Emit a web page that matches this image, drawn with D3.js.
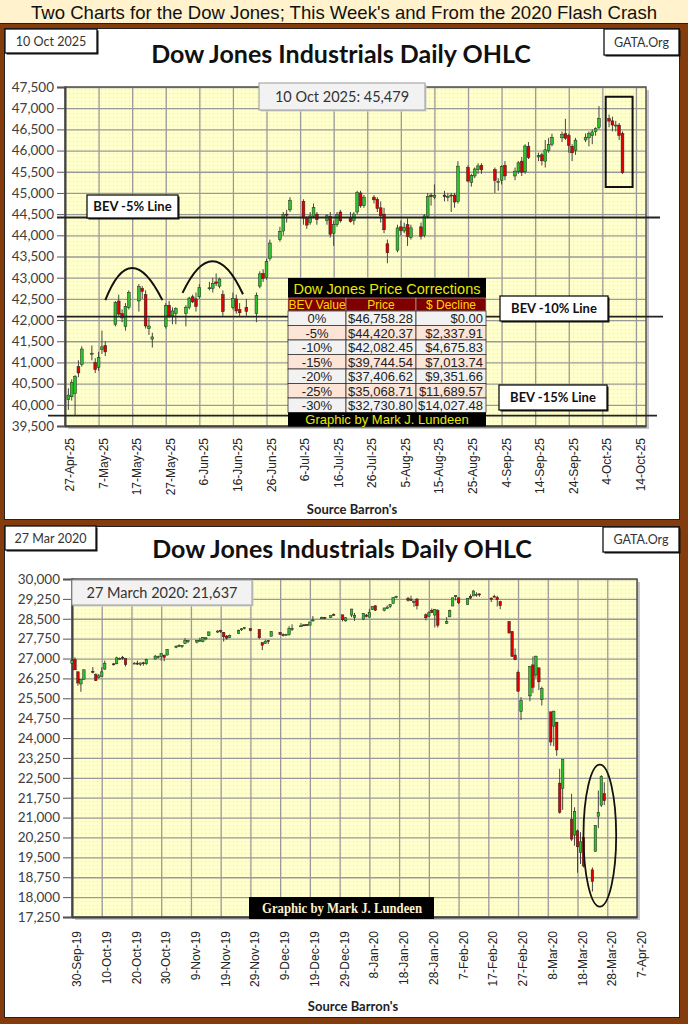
<!DOCTYPE html>
<html>
<head>
<meta charset="utf-8">
<script src="https://cdn.jsdelivr.net/npm/d3@7"></script>
<style>
body { margin: 0; background: #843c0c; }
svg { display: block; }
</style>
</head>
<body>
<svg width="688" height="1024"></svg>
<script>
// daily candles: date, open, high, low, close
var topCandles = [
    ["2025-04-28",40120,40390,39880,40228],["2025-04-29",40190,40600,40100,40527],["2025-04-30",40270,40700,39750,40669],
    ["2025-05-01",40900,41050,40650,40752],["2025-05-02",40950,41380,40900,41317],["2025-05-05",41200,41400,41050,41218],
    ["2025-05-06",41000,41100,40750,40829],["2025-05-07",40880,41250,40800,41114],["2025-05-08",41300,41750,41200,41368],
    ["2025-05-09",41400,41500,41150,41249],["2025-05-12",41900,42450,41850,42410],["2025-05-13",42450,42600,42100,42140],
    ["2025-05-14",42150,42250,41950,42051],["2025-05-15",41850,42400,41750,42323],["2025-05-16",42300,42700,42250,42655],
    ["2025-05-19",42450,42850,42200,42792],["2025-05-20",42750,42800,42500,42677],["2025-05-21",42600,42700,41800,41860],
    ["2025-05-22",41800,42050,41650,41859],["2025-05-23",41550,41700,41350,41603],["2025-05-27",41850,42400,41800,42343],
    ["2025-05-28",42350,42450,42050,42098],["2025-05-29",42100,42300,41900,42216],["2025-05-30",42150,42300,41900,42270],
    ["2025-06-02",42150,42350,41850,42305],["2025-06-03",42300,42550,42250,42520],["2025-06-04",42550,42600,42400,42428],
    ["2025-06-05",42500,42650,42200,42319],["2025-06-06",42550,42850,42500,42763],["2025-06-09",42750,42900,42700,42762],
    ["2025-06-10",42750,43000,42650,42867],["2025-06-11",42900,43100,42800,42866],["2025-06-12",42800,43000,42750,42968],
    ["2025-06-13",42600,42700,42100,42198],["2025-06-16",42300,42650,42250,42515],["2025-06-17",42500,42600,42150,42215],
    ["2025-06-18",42250,42400,42100,42172],["2025-06-20",42300,42500,42100,42207],["2025-06-23",42150,42650,41950,42582],
    ["2025-06-24",42800,43150,42750,43089],["2025-06-25",43100,43200,42900,42982],["2025-06-26",43000,43450,42950,43387],
    ["2025-06-27",43450,43900,43400,43819],["2025-06-30",43900,44200,43850,44095],["2025-07-01",44100,44550,44000,44495],
    ["2025-07-02",44500,44600,44300,44484],["2025-07-03",44600,44900,44550,44829],["2025-07-07",44800,44850,44250,44406],
    ["2025-07-08",44400,44450,44150,44241],["2025-07-09",44300,44550,44250,44458],["2025-07-10",44450,44750,44400,44651],
    ["2025-07-11",44500,44550,44250,44371],["2025-07-14",44350,44500,44250,44460],["2025-07-15",44450,44550,43950,44023],
    ["2025-07-16",44050,44350,43750,44254],["2025-07-17",44250,44550,44200,44484],["2025-07-18",44550,44600,44300,44342],
    ["2025-07-21",44400,44550,44300,44323],["2025-07-22",44350,44550,44250,44502],["2025-07-23",44550,45050,44500,45010],
    ["2025-07-24",45000,45050,44650,44694],["2025-07-25",44700,44950,44650,44901],["2025-07-28",44900,44950,44750,44837],
    ["2025-07-29",44850,44900,44550,44632],["2025-07-30",44650,44800,44300,44461],["2025-07-31",44500,44650,44050,44131],
    ["2025-08-01",43800,43900,43340,43589],["2025-08-04",43650,44250,43600,44174],["2025-08-05",44200,44350,44000,44112],
    ["2025-08-06",44100,44300,44050,44193],["2025-08-07",44250,44400,43750,43969],["2025-08-08",43950,44250,43900,44176],
    ["2025-08-11",44200,44300,43900,43975],["2025-08-12",44000,44500,43950,44459],["2025-08-13",44450,45000,44400,44922],
    ["2025-08-14",44950,45000,44700,44911],["2025-08-15",44900,45200,44850,44946],["2025-08-18",44950,45050,44800,44912],
    ["2025-08-19",44900,45000,44800,44922],["2025-08-20",44950,45000,44550,44938],["2025-08-21",44950,45000,44650,44785],
    ["2025-08-22",44800,45750,44750,45632],["2025-08-25",45600,45650,45250,45282],["2025-08-26",45250,45450,45150,45418],
    ["2025-08-27",45400,45600,45350,45565],["2025-08-28",45550,45700,45450,45637],["2025-08-29",45650,45700,45450,45545],
    ["2025-09-02",45550,45600,45000,45296],["2025-09-03",45250,45350,45050,45271],["2025-09-04",45300,45650,45200,45621],
    ["2025-09-05",45650,45750,45300,45401],["2025-09-08",45400,45600,45300,45515],["2025-09-09",45500,45750,45450,45711],
    ["2025-09-10",45750,45850,45400,45490],["2025-09-11",45500,46150,45450,46108],["2025-09-12",46100,46200,45800,45834],
    ["2025-09-15",45850,45950,45750,45883],["2025-09-16",45900,45950,45650,45758],["2025-09-17",45750,46250,45600,46018],
    ["2025-09-18",46000,46300,45950,46142],["2025-09-19",46150,46400,46100,46315],["2025-09-22",46300,46450,46200,46381],
    ["2025-09-23",46400,46750,46250,46292],["2025-09-24",46350,46400,45950,46121],["2025-09-25",46100,46150,45750,45947],
    ["2025-09-26",46000,46300,45900,46247],["2025-09-29",46250,46400,46200,46316],["2025-09-30",46300,46450,46100,46398],
    ["2025-10-01",46350,46500,46150,46441],["2025-10-02",46450,46550,46350,46519],["2025-10-03",46550,47050,46500,46758],
    ["2025-10-06",46760,46850,46550,46695],["2025-10-07",46700,46800,46450,46603],["2025-10-08",46600,46700,46450,46602],
    ["2025-10-09",46600,46650,46250,46358],["2025-10-10",46400,46450,45450,45479]
];

var bottomCandles = [
    ["2019-09-30",26820,26998,26790,26917],["2019-10-01",26960,27046,26570,26573],["2019-10-02",26500,26500,25974,26079],
    ["2019-10-03",26040,26210,25743,26201],["2019-10-04",26220,26590,26200,26573],["2019-10-07",26520,26680,26440,26478],
    ["2019-10-08",26400,26440,26150,26164],["2019-10-09",26280,26420,26250,26347],["2019-10-10",26330,26670,26310,26497],
    ["2019-10-11",26600,26920,26580,26817],["2019-10-14",26800,26830,26740,26787],["2019-10-15",26800,27070,26790,27025],
    ["2019-10-16",27000,27040,26960,27002],["2019-10-17",27050,27100,26950,27026],["2019-10-18",27000,27010,26700,26770],
    ["2019-10-21",26810,26860,26790,26828],["2019-10-22",26830,26920,26760,26788],["2019-10-23",26780,26850,26720,26834],
    ["2019-10-24",26840,26880,26730,26806],["2019-10-25",26800,26990,26770,26958],["2019-10-28",26980,27140,26970,27091],
    ["2019-10-29",27070,27110,27000,27071],["2019-10-30",27080,27190,26920,27186],["2019-10-31",27130,27140,26900,27046],
    ["2019-11-01",27130,27360,27120,27347],["2019-11-04",27430,27500,27390,27462],["2019-11-05",27490,27540,27430,27492],
    ["2019-11-06",27460,27500,27400,27493],["2019-11-07",27560,27770,27550,27675],["2019-11-08",27640,27700,27580,27681],
    ["2019-11-11",27620,27700,27570,27691],["2019-11-12",27690,27790,27640,27691],["2019-11-13",27640,27810,27610,27784],
    ["2019-11-14",27760,27800,27690,27782],["2019-11-15",27860,28010,27860,28005],["2019-11-18",28010,28070,27960,28036],
    ["2019-11-19",28060,28090,27960,28053],["2019-11-20",27990,28000,27640,27821],["2019-11-21",27850,27880,27710,27767],
    ["2019-11-22",27800,27900,27770,27876],["2019-11-25",27950,28090,27940,28067],["2019-11-26",28090,28150,28040,28122],
    ["2019-11-27",28140,28175,28100,28164],["2019-11-29",28140,28140,28030,28051],["2019-12-02",28100,28100,27740,27783],
    ["2019-12-03",27600,27600,27320,27503],["2019-12-04",27560,27710,27560,27650],["2019-12-05",27680,27700,27550,27677],
    ["2019-12-06",27840,28030,27840,28015],["2019-12-09",27990,28000,27900,27910],["2019-12-10",27900,27950,27830,27882],
    ["2019-12-11",27900,27930,27860,27911],["2019-12-12",27900,28220,27860,28132],["2019-12-13",28120,28290,28040,28135],
    ["2019-12-16",28230,28340,28200,28235],["2019-12-17",28270,28300,28230,28268],["2019-12-18",28280,28300,28230,28240],
    ["2019-12-19",28260,28380,28250,28377],["2019-12-20",28450,28600,28400,28455],["2019-12-23",28500,28580,28490,28551],
    ["2019-12-24",28550,28570,28480,28515],["2019-12-26",28540,28620,28530,28621],["2019-12-27",28670,28700,28610,28645],
    ["2019-12-30",28650,28650,28400,28462],["2019-12-31",28420,28550,28390,28538],["2020-01-02",28640,28870,28560,28869],
    ["2020-01-03",28550,28720,28420,28634],["2020-01-06",28470,28710,28450,28703],["2020-01-07",28640,28680,28550,28584],
    ["2020-01-08",28560,28870,28550,28745],["2020-01-09",28850,28970,28830,28957],["2020-01-10",28990,29010,28790,28824],
    ["2020-01-13",28820,28910,28780,28908],["2020-01-14",28880,29000,28880,28940],["2020-01-15",28960,29060,28900,29030],
    ["2020-01-16",29080,29300,29070,29298],["2020-01-17",29320,29370,29280,29348],["2020-01-21",29260,29330,29150,29196],
    ["2020-01-22",29240,29370,29170,29186],["2020-01-23",29150,29200,28950,29160],["2020-01-24",29240,29280,28850,28990],
    ["2020-01-27",28650,28700,28440,28536],["2020-01-28",28600,28780,28560,28723],["2020-01-29",28820,28890,28710,28734],
    ["2020-01-30",28640,28860,28170,28859],["2020-01-31",28810,28860,28170,28256],["2020-02-03",28320,28560,28320,28400],
    ["2020-02-04",28570,28840,28570,28808],["2020-02-05",28980,29290,28980,29291],["2020-02-06",29330,29380,29190,29380],
    ["2020-02-07",29290,29290,29050,29103],["2020-02-10",29030,29280,29030,29276],["2020-02-11",29350,29420,29250,29276],
    ["2020-02-12",29360,29570,29360,29551],["2020-02-13",29400,29500,29330,29424],["2020-02-14",29440,29450,29330,29398],
    ["2020-02-18",29280,29300,29130,29232],["2020-02-19",29350,29410,29330,29348],["2020-02-20",29300,29370,28960,29220],
    ["2020-02-21",29150,29180,28860,28992],["2020-02-24",28400,28400,27960,27961],["2020-02-25",28020,28030,27060,27081],
    ["2020-02-26",27130,27380,26940,26957],["2020-02-27",26480,26550,25760,25766],["2020-02-28",25000,25540,24680,25409],
    ["2020-03-02",25590,26710,25390,26703],["2020-03-03",26760,27080,25700,25917],["2020-03-04",26380,27100,26270,27091],
    ["2020-03-05",26650,26650,25810,26121],["2020-03-06",25460,25940,25230,25865],["2020-03-09",24990,24990,23710,23851],
    ["2020-03-10",24450,25020,23690,25018],["2020-03-11",24600,24600,23330,23553],["2020-03-12",22300,22840,21150,21200],
    ["2020-03-13",22100,23190,21290,23186],["2020-03-16",20920,21900,20120,20189],["2020-03-17",20340,21390,19940,21237],
    ["2020-03-18",20500,20550,18920,19899],["2020-03-19",19690,20450,19250,20087],["2020-03-20",20250,20530,19120,19174],
    ["2020-03-23",19030,19120,18210,18592],["2020-03-24",19720,20720,19720,20705],["2020-03-25",21050,22020,20600,21200],
    ["2020-03-26",21470,22600,21400,22552],["2020-03-27",21900,22330,21470,21637]
];

var topYTicks = [39500,40000,40500,41000,41500,42000,42500,43000,43500,44000,44500,45000,45500,46000,46500,47000,47500];
var bottomYTicks = [17250,18000,18750,19500,20250,21000,21750,22500,23250,24000,24750,25500,26250,27000,27750,28500,29250,30000];
var topXTicks = ["2025-04-27","2025-05-07","2025-05-17","2025-05-27","2025-06-06","2025-06-16","2025-06-26","2025-07-06","2025-07-16",
    "2025-07-26","2025-08-05","2025-08-15","2025-08-25","2025-09-04","2025-09-14","2025-09-24","2025-10-04","2025-10-14"];
var bottomXTicks = ["2019-09-30","2019-10-10","2019-10-20","2019-10-30","2019-11-09","2019-11-19","2019-11-29","2019-12-09","2019-12-19",
    "2019-12-29","2020-01-08","2020-01-18","2020-01-28","2020-02-07","2020-02-17","2020-02-27","2020-03-08","2020-03-18","2020-03-28","2020-04-07"];

// BEV price correction table
var bevLabels = ["0%","-5%","-10%","-15%","-20%","-25%","-30%"];
var bevPrices = [46758.28,44420.37,42082.45,39744.54,37406.62,35068.71,32730.80];
var bevDeclines = [0,2337.91,4675.83,7013.74,9351.66,11689.57,14027.48];

// annotations (date, value)
var topArcs = [
    [["2025-05-09",42470],["2025-05-17",43230],["2025-05-26",42470]],
    [["2025-06-01",42640],["2025-06-10",43390],["2025-06-19",42610]]
];
var topBox = [["2025-10-05",47270],["2025-10-13",45140]];
var bottomEllipse = [["2020-03-20",23000],["2020-03-31",17640]];

var parse = d3.utcParse("%Y-%m-%d");
var fmtDate = d3.utcFormat("%-d-%b-%y");

var svg = d3.select('svg');
var defs = svg.append('defs');
var pat = defs.append('pattern').attr('id', 'dots')
    .attr('width', 4).attr('height', 4).attr('patternUnits', 'userSpaceOnUse');
pat.append('rect').attr('width', 4).attr('height', 4).attr('fill', '#ffffcc');
pat.append('rect').attr('x', 1).attr('y', 1).attr('width', 1).attr('height', 1).attr('fill', '#ebe4b4');

//frame and banner
svg.append('rect').attr('width', 688).attr('height', 1024).attr('fill', '#843c0c');
svg.append('rect').attr('width', 688).attr('height', 23).attr('fill', '#fff2cc');
svg.append('line').attr('x1', 0).attr('x2', 688).attr('y1', 23.5).attr('y2', 23.5).attr('stroke', '#3a1a05');
svg.append('text').attr('x', 344).attr('y', 18.5).attr('text-anchor', 'middle')
    .style('font-family', 'Liberation Sans, Arial').style('font-size', '19px').attr('fill', '#111')
    .attr('textLength', 626).attr('lengthAdjust', 'spacingAndGlyphs')
    .text("Two Charts for the Dow Jones; This Week's and From the 2020 Flash Crash");

svg.append('rect').attr('x', 4.5).attr('y', 28.5).attr('width', 675).attr('height', 491)
    .attr('fill', '#fff').attr('stroke', '#222');
svg.append('rect').attr('x', 4.5).attr('y', 526.5).attr('width', 675).attr('height', 491)
    .attr('fill', '#fff').attr('stroke', '#222');


function labelBox(x, y, w, h, txt, opts) {
    opts = opts || {};
    var g = svg.append('g');
    g.append('rect').attr('x', x + 1.5).attr('y', y + 1.5).attr('width', w).attr('height', h)
        .attr('fill', opts.shadow || '#111');
    g.append('rect').attr('x', x).attr('y', y).attr('width', w).attr('height', h)
        .attr('fill', opts.fill || '#fff').attr('stroke', opts.stroke || '#111').attr('stroke-width', opts.sw || 1.3);
    g.append('text').attr('x', x + w / 2).attr('y', y + h / 2).attr('dy', '0.36em')
        .attr('text-anchor', 'middle')
        .style('font-family', opts.font || 'Lato, sans-serif')
        .style('font-size', (opts.size || 12) + 'px')
        .style('font-weight', opts.bold ? 'bold' : 'normal')
        .attr('fill', opts.color || '#333')
        .text(txt);
    return g;
}


function drawCandles(g, data, x, y, w) {
    var c = g.selectAll('.candle').data(data).enter().append('g').attr('class', 'candle');
    c.append('line')
        .attr('x1', d => x(parse(d[0]))).attr('x2', d => x(parse(d[0])))
        .attr('y1', d => y(d[2])).attr('y2', d => y(d[3]))
        .attr('stroke', '#444').attr('stroke-width', 1);
    c.append('rect')
        .attr('x', d => x(parse(d[0])) - w / 2)
        .attr('y', d => y(Math.max(d[1], d[4])))
        .attr('width', w)
        .attr('height', d => Math.max(1, Math.abs(y(d[1]) - y(d[4]))))
        .attr('fill', d => d[4] >= d[1] ? '#2ec12e' : '#e00000')
        .attr('stroke', '#222').attr('stroke-width', 0.5);
}


//plot area, grid, axes
function drawPlot(x, y, yTicks, xTicks, tickLen, labelGap) {
    var l = x.range()[0], r = x.range()[1], t = y.range()[1], b = y.range()[0];
    svg.append('rect').attr('x', l + 3).attr('y', t + 3).attr('width', r - l).attr('height', b - t).attr('fill', '#c8c8c8');
    svg.append('rect').attr('x', l).attr('y', t).attr('width', r - l).attr('height', b - t).attr('fill', 'url(#dots)');

    var gy = svg.append('g').attr('transform', 'translate(' + l + ',0)')
        .call(d3.axisLeft(y).tickValues(yTicks).tickSize(-(r - l)).tickFormat(''));
    gy.select('.domain').remove();
    gy.selectAll('line').attr('stroke', '#9a9a9a').attr('stroke-width', 1.3);

    var gx = svg.append('g').attr('transform', 'translate(0,' + b + ')')
        .call(d3.axisBottom(x).tickValues(xTicks.map(parse)).tickSize(-(b - t)).tickFormat(''));
    gx.select('.domain').remove();
    gx.selectAll('line').attr('stroke', '#9a9a9a').attr('stroke-width', 1.3);

    svg.append('rect').attr('x', l).attr('y', t).attr('width', r - l).attr('height', b - t)
        .attr('fill', 'none').attr('stroke', '#555').attr('stroke-width', 1.5);

    var ay = svg.append('g').attr('transform', 'translate(' + l + ',0)')
        .call(d3.axisLeft(y).tickValues(yTicks).tickSize(tickLen).tickPadding(3).tickFormat(d3.format(',')));
    ay.select('.domain').attr('stroke', '#444').attr('stroke-width', 2);
    ay.selectAll('line').attr('stroke', '#555');
    ay.selectAll('text').style('font-family', 'Lato, sans-serif').style('font-size', '13.5px').attr('fill', '#404040');

    var ax = svg.append('g').attr('transform', 'translate(0,' + b + ')')
        .call(d3.axisBottom(x).tickValues(xTicks.map(parse)).tickSize(0).tickFormat(fmtDate));
    ax.select('.domain').attr('stroke', '#444').attr('stroke-width', 2);
    ax.selectAll('text')
        .attr('transform', 'rotate(-90)')
        .attr('x', -labelGap).attr('y', 0).attr('dy', '0.71em')
        .style('text-anchor', 'end')
        .style('font-family', 'Liberation Sans, Arial').style('font-size', '12px').attr('fill', '#222');
}


/************ top chart: 2025 ************/
var topX = d3.scaleUtc().domain([parse("2025-04-27"), parse("2025-10-17")]).range([65, 646]);
var topY = d3.scaleLinear().domain([39500, 47500]).range([426, 87]);

labelBox(5, 29, 92, 24, "10 Oct 2025", {size: 12.5});
labelBox(604, 29, 75, 26, "GATA.Org", {size: 12.5});
svg.append('text').attr('x', 341).attr('y', 63).attr('text-anchor', 'middle')
    .style('font-family', 'Lato, sans-serif').style('font-size', '25px').style('font-weight', 'bold')
    .attr('fill', '#111').text("Dow Jones Industrials Daily OHLC");

drawPlot(topX, topY, topYTicks, topXTicks, 8, 12);

var topG = svg.append('g');
drawCandles(topG, topCandles, topX, topY, 2.8);

//BEV lines
var bevLineRange = [[57, 660], [57, 663], [48, 657]];
[1, 2, 3].forEach(function(k, i) {
    svg.append('line')
        .attr('x1', bevLineRange[i][0]).attr('x2', bevLineRange[i][1])
        .attr('y1', topY(bevPrices[k])).attr('y2', topY(bevPrices[k]))
        .attr('stroke', '#222').attr('stroke-width', 1.8);
});

//arcs above the two humps
topArcs.forEach(function(a) {
    var p0 = [topX(parse(a[0][0])), topY(a[0][1])];
    var p1 = [topX(parse(a[1][0])), topY(a[1][1])];
    var p2 = [topX(parse(a[2][0])), topY(a[2][1])];
    var cx = 2 * p1[0] - (p0[0] + p2[0]) / 2;
    var cy = 2 * p1[1] - (p0[1] + p2[1]) / 2;
    var p = d3.path();
    p.moveTo(p0[0], p0[1]);
    p.quadraticCurveTo(cx, cy, p2[0], p2[1]);
    svg.append('path').attr('d', p.toString()).attr('fill', 'none').attr('stroke', '#111').attr('stroke-width', 2);
});

var bx0 = topX(parse(topBox[0][0])), bx1 = topX(parse(topBox[1][0]));
var by0 = topY(topBox[0][1]), by1 = topY(topBox[1][1]);
svg.append('rect').attr('x', bx0).attr('y', by0).attr('width', bx1 - bx0).attr('height', by1 - by0)
    .attr('fill', 'none').attr('stroke', '#111').attr('stroke-width', 2);

labelBox(87, 195, 91, 23, "BEV  -5% Line", {size: 13, bold: true, color: '#111'});
labelBox(500, 296, 108, 25, "BEV  -10% Line", {size: 13, bold: true, color: '#111'});
labelBox(499, 385, 108, 25, "BEV  -15% Line", {size: 13, bold: true, color: '#111'});

labelBox(259, 83, 166, 27, "10 Oct 2025: 45,479", {size: 14.5, fill: '#f2f2f2', stroke: '#9a9a9a', shadow: '#cfcfcf', sw: 1});

//price correction table
var tbl = svg.append('g').attr('transform', 'translate(288,278)');
var colX = [0, 58, 128, 198];
var titleH = 20, headH = 13, rowH = 14.5, footH = 14;
var tFont = 'Liberation Sans Narrow, Liberation Sans, Arial';
tbl.append('rect').attr('width', 198).attr('height', titleH).attr('fill', '#000');
tbl.append('text').attr('x', 99).attr('y', 15.5).attr('text-anchor', 'middle')
    .style('font-family', 'Liberation Sans, Arial').style('font-size', '14.5px').attr('fill', '#e8e800')
    .text("Dow Jones Price Corrections");
["BEV Value", "Price", "$ Decline"].forEach(function(h, i) {
    tbl.append('rect').attr('x', colX[i]).attr('y', titleH).attr('width', colX[i + 1] - colX[i]).attr('height', headH)
        .attr('fill', '#7f0000').attr('stroke', '#bbb').attr('stroke-width', 0.6);
    tbl.append('text').attr('x', (colX[i] + colX[i + 1]) / 2).attr('y', titleH + 11)
        .attr('text-anchor', 'middle').style('font-family', tFont).style('font-size', '12px')
        .attr('fill', '#ffd700').text(h);
});
var money = d3.format("$,.2f");
bevLabels.forEach(function(lab, i) {
    var ry = titleH + headH + i * rowH;
    var bg = i % 2 == 0 ? '#f2f2f2' : '#fce4d6';
    for (var c = 0; c < 3; c++) {
        tbl.append('rect').attr('x', colX[c]).attr('y', ry).attr('width', colX[c + 1] - colX[c]).attr('height', rowH)
            .attr('fill', bg).attr('stroke', '#333').attr('stroke-width', 0.8);
    }
    tbl.append('text').attr('x', (colX[0] + colX[1]) / 2).attr('y', ry + 12).attr('text-anchor', 'middle')
        .style('font-family', tFont).style('font-size', '13px').attr('fill', '#222').text(lab);
    tbl.append('text').attr('x', colX[2] - 3).attr('y', ry + 12).attr('text-anchor', 'end')
        .style('font-family', tFont).style('font-size', '13px').attr('fill', '#222').text(money(bevPrices[i]));
    tbl.append('text').attr('x', colX[3] - 3).attr('y', ry + 12).attr('text-anchor', 'end')
        .style('font-family', tFont).style('font-size', '13px').attr('fill', '#222').text(money(bevDeclines[i]));
});
var fy = titleH + headH + bevLabels.length * rowH;
tbl.append('rect').attr('y', fy).attr('width', 198).attr('height', footH).attr('fill', '#000');
tbl.append('text').attr('x', 99).attr('y', fy + 11.5).attr('text-anchor', 'middle')
    .style('font-family', tFont).style('font-size', '13px').attr('fill', '#e8e800')
    .text("Graphic by Mark J. Lundeen");

svg.append('text').attr('x', 352).attr('y', 514).attr('text-anchor', 'middle')
    .style('font-family', 'Lato, sans-serif').style('font-size', '13px').style('font-weight', 'bold')
    .attr('fill', '#222').text("Source Barron's");


/************ bottom chart: 2020 ************/
var botX = d3.scaleUtc().domain([parse("2019-09-30"), parse("2020-04-07")]).range([72, 637]);
var botY = d3.scaleLinear().domain([17250, 30000]).range([917, 579]);

labelBox(5, 526, 91, 24, "27 Mar 2020", {size: 12.5});
labelBox(603, 527, 76, 25, "GATA.Org", {size: 12.5});
svg.append('text').attr('x', 342).attr('y', 558).attr('text-anchor', 'middle')
    .style('font-family', 'Lato, sans-serif').style('font-size', '25px').style('font-weight', 'bold')
    .attr('fill', '#111').text("Dow Jones Industrials Daily OHLC");

drawPlot(botX, botY, bottomYTicks, bottomXTicks, 9, 14);

var botG = svg.append('g');
drawCandles(botG, bottomCandles, botX, botY, 2.5);

var ex0 = botX(parse(bottomEllipse[0][0])), ex1 = botX(parse(bottomEllipse[1][0]));
var ey0 = botY(bottomEllipse[0][1]), ey1 = botY(bottomEllipse[1][1]);
svg.append('ellipse').attr('cx', (ex0 + ex1) / 2).attr('cy', (ey0 + ey1) / 2)
    .attr('rx', (ex1 - ex0) / 2).attr('ry', (ey1 - ey0) / 2)
    .attr('fill', 'none').attr('stroke', '#111').attr('stroke-width', 1.8);

labelBox(72, 580, 180, 25, "27 March 2020: 21,637", {size: 14.5, fill: '#f2f2f2', stroke: '#9a9a9a', shadow: '#cfcfcf', sw: 1});

var credit = svg.append('g');
credit.append('rect').attr('x', 249).attr('y', 897).attr('width', 185).attr('height', 22).attr('fill', '#000');
credit.append('text').attr('x', 342).attr('y', 912.5).attr('text-anchor', 'middle')
    .style('font-family', 'Liberation Serif, DejaVu Serif, serif').style('font-size', '14px').style('font-weight', 'bold')
    .attr('textLength', 160).attr('lengthAdjust', 'spacingAndGlyphs')
    .attr('fill', '#fff2cc').text("Graphic by Mark J. Lundeen");

svg.append('text').attr('x', 353).attr('y', 1011).attr('text-anchor', 'middle')
    .style('font-family', 'Lato, sans-serif').style('font-size', '13px').style('font-weight', 'bold')
    .attr('fill', '#222').text("Source Barron's");
</script>
</body>
</html>
